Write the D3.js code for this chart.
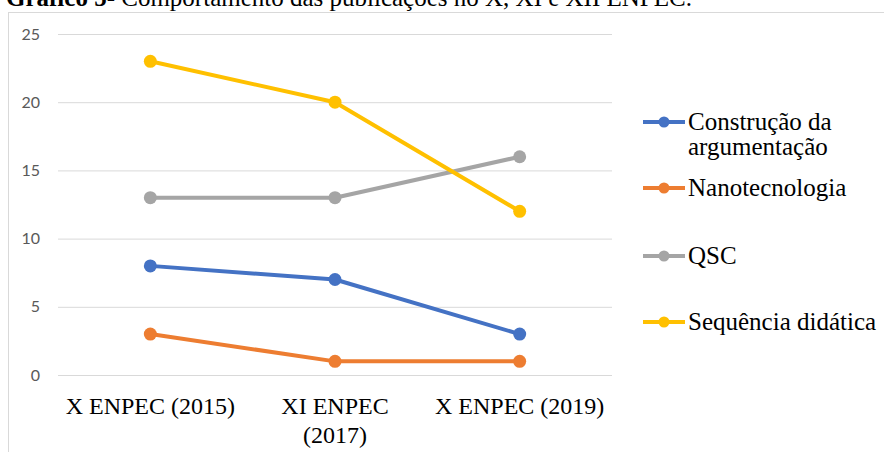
<!DOCTYPE html>
<html>
<head>
<meta charset="utf-8">
<script src="https://cdn.jsdelivr.net/npm/d3@7"></script>
<style>
  html, body { margin: 0; padding: 0; background: #fff; }
  svg { display: block; }
</style>
</head>
<body>
<svg id="chart" width="884" height="452"></svg>
<script>
// Editions of the event (each label split into its wrapped lines)
const categories = ["X ENPEC (2015)", "XI ENPEC (2017)", "X ENPEC (2019)"];
const categoryLines = [["X ENPEC (2015)"], ["XI ENPEC", "(2017)"], ["X ENPEC (2019)"]];

// Number of publications per theme
const seriesNames = ["Construção da argumentação", "Nanotecnologia", "QSC", "Sequência didática"];
const legendLines = [["Construção da", "argumentação"], ["Nanotecnologia"], ["QSC"], ["Sequência didática"]];
const construcao = [8, 7, 3];
const nanotecnologia = [3, 1, 1];
const qsc = [13, 13, 16];
const sequencia = [23, 20, 12];
const seriesColors = ["#4472C4", "#ED7D31", "#A5A5A5", "#FFC000"];

const yTicks = [0, 5, 10, 15, 20, 25];

const series = [construcao, nanotecnologia, qsc, sequencia].map((values, i) => ({
  name: seriesNames[i],
  lines: legendLines[i],
  color: seriesColors[i],
  values: values.map((v, j) => ({ cat: categories[j], v }))
}));

const svg = d3.select("#chart");
const serif = "'Liberation Serif', 'Times New Roman', serif";

// Caption above the chart
const title = svg.append("text")
  .attr("x", 6).attr("y", 6)
  .attr("font-family", serif).attr("font-size", 25).attr("fill", "#000");
title.append("tspan").attr("font-weight", "bold").text("Gráfico 5-");
title.append("tspan").text(" Comportamento das publicações no X, XI e XII ENPEC.");

// Chart frame
svg.append("rect")
  .attr("x", 8.5).attr("y", 12.5)
  .attr("width", 884).attr("height", 460)
  .attr("fill", "none").attr("stroke", "#d9d9d9").attr("stroke-width", 1);

const plot = { left: 58, right: 612, top: 34, bottom: 375 };

const x = d3.scaleBand().domain(categories).range([plot.left, plot.right]);
const y = d3.scaleLinear().domain([0, 25]).range([plot.bottom, plot.top]);

// Horizontal gridlines + value labels
const yAxis = d3.axisLeft(y).tickValues(yTicks).tickSize(-(plot.right - plot.left)).tickPadding(18);
const gy = svg.append("g").attr("transform", `translate(${plot.left},0)`).call(yAxis);
gy.select(".domain").remove();
gy.selectAll(".tick line").attr("stroke", "#d9d9d9").attr("stroke-width", 1);
gy.selectAll(".tick text")
  .attr("font-family", "Lato, 'Open Sans', sans-serif")
  .attr("font-size", 16).attr("fill", "#595959");

// Category labels
const gx = svg.append("g");
categories.forEach((c, i) => {
  const t = gx.append("text")
    .attr("x", x(c) + x.bandwidth() / 2)
    .attr("y", 414)
    .attr("text-anchor", "middle")
    .attr("font-family", serif).attr("font-size", 24).attr("fill", "#000");
  categoryLines[i].forEach((ln, k) => {
    t.append("tspan").attr("x", x(c) + x.bandwidth() / 2).attr("dy", k === 0 ? 0 : 29).text(ln);
  });
});

// Lines and markers
const line = d3.line().x(d => x(d.cat) + x.bandwidth() / 2).y(d => y(d.v));
const gs = svg.append("g").selectAll("g").data(series).join("g");
gs.append("path")
  .attr("d", d => line(d.values))
  .attr("fill", "none")
  .attr("stroke", d => d.color)
  .attr("stroke-width", 4)
  .attr("stroke-linejoin", "round")
  .attr("stroke-linecap", "round");
gs.selectAll("circle").data(d => d.values.map(v => ({ ...v, color: d.color }))).join("circle")
  .attr("cx", d => x(d.cat) + x.bandwidth() / 2)
  .attr("cy", d => y(d.v))
  .attr("r", 6.5)
  .attr("fill", d => d.color);

// Legend
const legendY = [122, 188, 256, 322];
const lg = svg.append("g").selectAll("g").data(series).join("g")
  .attr("transform", (d, i) => `translate(643,${legendY[i]})`);
lg.append("line")
  .attr("x1", 0).attr("x2", 42).attr("y1", 0).attr("y2", 0)
  .attr("stroke", d => d.color).attr("stroke-width", 4);
lg.append("circle").attr("cx", 21).attr("cy", 0).attr("r", 5.5).attr("fill", d => d.color);
lg.each(function (d) {
  const t = d3.select(this).append("text")
    .attr("x", 45).attr("y", 8)
    .attr("font-family", serif).attr("font-size", 25).attr("fill", "#000");
  d.lines.forEach((ln, k) => {
    t.append("tspan").attr("x", 45).attr("dy", k === 0 ? 0 : 25).text(ln);
  });
});
</script>
</body>
</html>
